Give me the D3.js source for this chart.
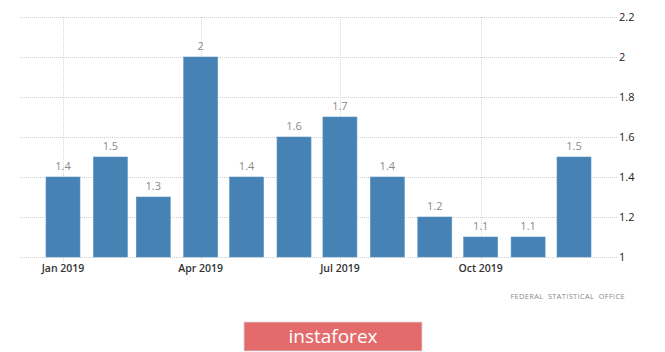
<!DOCTYPE html>
<html><head><meta charset="utf-8">
<script src="https://cdn.jsdelivr.net/npm/d3@7"></script>
<style>body{margin:0;background:#fff;}svg{display:block;}</style>
</head><body>
<script>
const months = ["2019-01","2019-02","2019-03","2019-04","2019-05","2019-06","2019-07","2019-08","2019-09","2019-10","2019-11","2019-12"];
const values = [1.4,1.5,1.3,2.0,1.4,1.6,1.7,1.4,1.2,1.1,1.1,1.5];
const yTicks = [1,1.2,1.4,1.6,1.8,2,2.2];
const xTickMonths = ["2019-01","2019-04","2019-07","2019-10"];
const source = "FEDERAL  STATISTICAL  OFFICE";
const brand = "instaforex";

const W=665,H=352;
const parse = d3.timeParse("%Y-%m");
const svg = d3.select("body").append("svg").attr("width",W).attr("height",H);
const x = d3.scaleTime().domain([parse("2019-01"),parse("2019-12")]).range([63,574]);
const y = d3.scaleLinear().domain([1,2.2]).range([257,17]);
const left=20,right=617;

// horizontal grid
svg.append("g").selectAll("line").data(yTicks).join("line")
  .attr("x1",left).attr("x2",right).attr("y1",d=>y(d)+0.5).attr("y2",d=>y(d)+0.5)
  .attr("stroke","#d0d0d0").attr("stroke-dasharray","1,1");
// vertical grid
svg.append("g").selectAll("line").data(xTickMonths).join("line")
  .attr("x1",d=>Math.round(x(parse(d)))+0.5).attr("x2",d=>Math.round(x(parse(d)))+0.5)
  .attr("y1",y(2.2)).attr("y2",y(1)+5)
  .attr("stroke","#d6d6d6").attr("stroke-dasharray","1,1");

// bars
const bw=34;
svg.append("g").selectAll("rect").data(values).join("rect")
  .attr("x",(d,i)=>x(parse(months[i]))-bw/2)
  .attr("y",d=>y(d))
  .attr("width",bw).attr("height",d=>y(1)-y(d))
  .attr("fill","#4682b4").attr("stroke","#5a93c2").attr("stroke-width",0.6);

// value labels
svg.append("g").selectAll("text").data(values).join("text")
  .attr("x",(d,i)=>x(parse(months[i])))
  .attr("y",d=>y(d)-7)
  .attr("text-anchor","middle")
  .attr("font-family","Open Sans, Arial, sans-serif").attr("font-size",11)
  .attr("fill","#8a8a8a")
  .text(d=>d3.format("")(d));

// y axis labels
svg.append("g").selectAll("text").data(yTicks).join("text")
  .attr("x",619).attr("y",d=>y(d)+4)
  .attr("font-family","Open Sans, Arial, sans-serif").attr("font-size",11)
  .attr("fill","#222")
  .text(d=>d3.format("")(d));

// x axis labels
const fmt = d3.timeFormat("%b %Y");
svg.append("g").selectAll("text").data(xTickMonths).join("text")
  .attr("x",d=>x(parse(d))).attr("y",272)
  .attr("text-anchor","middle")
  .attr("font-family","Open Sans, Arial, sans-serif").attr("font-size",10.5).attr("font-weight",600)
  .attr("fill","#333")
  .text(d=>fmt(parse(d)));

// source
svg.append("text").attr("x",625).attr("y",299).attr("text-anchor","end")
  .attr("font-family","Open Sans, Arial, sans-serif").attr("font-size",7.3)
  .attr("fill","#888").attr("letter-spacing",0.4)
  .style("white-space","pre").attr("xml:space","preserve")
  .text(source);

// brand button
svg.append("rect").attr("x",244).attr("y",322).attr("width",178).attr("height",29)
  .attr("fill","#e46b6c").attr("stroke","#d9d9d9").attr("stroke-width",0.8);
svg.append("text").attr("x",333).attr("y",343).attr("text-anchor","middle")
  .attr("font-family","Open Sans, Arial, sans-serif").attr("font-size",19)
  .attr("fill","#fff").text(brand);
</script>
</body></html>
